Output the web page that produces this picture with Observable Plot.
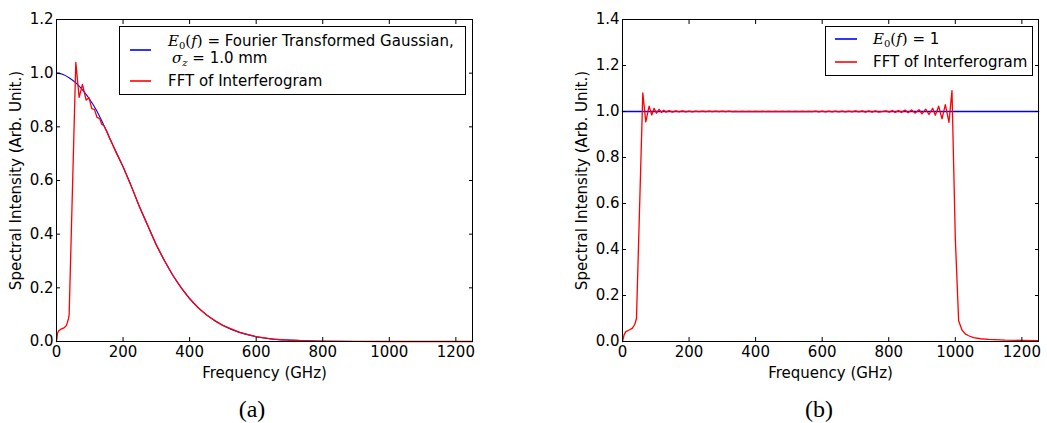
<!DOCTYPE html>
<html><head><meta charset="utf-8">
<script src="https://cdn.jsdelivr.net/npm/d3@7"></script>
<script src="https://cdn.jsdelivr.net/npm/@observablehq/plot@0.6"></script>
<style>
body{margin:0;background:#fff;}
#fig{position:relative;width:1047px;height:423px;overflow:hidden;}
.panel{position:absolute;top:0;width:490px;height:390px;}
.panel svg{max-width:none !important;}
#overlay{position:absolute;left:0;top:0;}
</style></head><body><div id="fig"></div>
<script>
// ---------- data ----------
const freqTicks = [0, 200, 400, 600, 800, 1000, 1200];
const yTicksA = [0, 0.2, 0.4, 0.6, 0.8, 1.0, 1.2];
const yTicksB = [0, 0.2, 0.4, 0.6, 0.8, 1.0, 1.2, 1.4];
const xLabel = "Frequency (GHz)";
const yLabel = "Spectral Intensity (Arb. Unit.)";
const captions = ["(a)", "(b)"];
const legendRed = "FFT of Interferogram";
const legendBlueA = [" = Fourier Transformed Gaussian,", " = 1.0 mm"];
const legendBlueB = " = 1";

// panel (a): E0(f), Fourier transformed Gaussian
const blueFreqA = [0,20,40,60,80,100,120,140,160,180,200,225,250,275,300,325,350,375,400,425,450,475,500,550,600,650,700,750,800,900,1000,1250];
const blueValA  = [1,0.995,0.981,0.962,0.935,0.902,0.862,0.812,0.757,0.704,0.651,0.578,0.5,0.43,0.36,0.3,0.246,0.2,0.16,0.127,0.1,0.078,0.06,0.034,0.018,0.009,0.005,0.0025,0.001,0.0002,0,0];
// panel (a): FFT of interferogram
const redFreqA = [0,3,6,12,24,30,36,38,58,68,78,89,98,106,114,122,130,136,142,150,160,170,180,200,225,250,275,300,325,350,375,400,425,450,475,500,550,600,650,700,750,800,900,1000,1100,1250];
const redValA  = [0,0.03,0.039,0.045,0.052,0.06,0.085,0.1,1.04,0.91,0.958,0.9,0.908,0.868,0.865,0.835,0.83,0.81,0.805,0.786,0.757,0.73,0.702,0.651,0.578,0.5,0.43,0.36,0.3,0.246,0.2,0.16,0.127,0.1,0.078,0.06,0.034,0.018,0.009,0.005,0.0025,0.001,0.0002,0,0,0];

// panel (b): E0(f) = 1
const blueFreqB = [0, 1250];
const blueValB  = [1, 1];
// panel (b): FFT of interferogram
const redFreqB = [0,5,10,20,30,37,42,61,70,80,88,95,102,110,117,124,131,140,150,160,170,180,190,200,210,220,230,240,250,260,270,280,290,300,310,320,330,340,350,360,370,380,390,400,410,420,430,440,450,460,470,480,490,500,510,520,530,540,550,560,570,580,590,600,610,620,630,640,650,660,670,680,690,700,710,720,730,740,750,760,770,792,801,811,819,829,838,849,858,869,879,891,900,911,921,932,940,950,960,970,981,990,1000,1010,1020,1030,1040,1055,1075,1100,1150,1200,1250];
const redValB  = [0,0.03,0.043,0.05,0.058,0.075,0.1,1.081,0.955,1.023,0.985,1.014,0.993,1.009,0.996,1.006,0.997,1.004,0.997,1.003,0.998,1.003,0.998,1.002,0.998,1.002,0.999,1.002,0.999,1.002,0.999,1.002,0.999,1.002,0.999,1.002,0.999,1.001,0.999,1.001,0.999,1.001,0.999,1.001,0.999,1.001,0.999,1.001,0.999,1.001,0.999,1.001,0.999,1.001,0.999,1.001,0.999,1.001,0.999,1.001,0.999,1.002,0.998,1.002,0.998,1.002,0.998,1.002,0.998,1.002,0.998,1.002,0.998,1.003,0.998,1.003,0.997,1.003,0.997,1.003,0.997,1.003,0.997,1.004,0.996,1.004,0.996,1.006,0.995,1.007,0.993,1.008,0.99,1.01,0.987,1.014,0.984,1.023,0.968,1.03,0.953,1.091,0.45,0.09,0.05,0.033,0.025,0.017,0.012,0.009,0.006,0.005,0.004];

// ---------- drawing ----------
const FONT = "DejaVu Sans";
const FS = 15;
function panel(blueF, blueV, redF, redV, yTicks, yMax, blueW) {
  const blue = blueF.map((f, i) => ({f, v: blueV[i]}));
  const red = redF.map((f, i) => ({f, v: redV[i]}));
  const none = () => "";
  return Plot.plot({
    width: 490, height: 390,
    marginLeft: 56, marginRight: 18, marginTop: 19, marginBottom: 49,
    style: {fontFamily: FONT, fontSize: FS + "px", background: "white", color: "black", overflow: "visible", maxWidth: "none"},
    x: {domain: [0, 1250], label: xLabel},
    y: {domain: [0, yMax], label: yLabel},
    marks: [
      Plot.line(blue, {x: "f", y: "v", stroke: "#0000ff", strokeWidth: blueW, curve: "monotone-x"}),
      Plot.line(red, {x: "f", y: "v", stroke: "#ff0000", strokeWidth: 1.3}),
      Plot.axisX(freqTicks, {anchor: "bottom", tickSize: 0, tickPadding: 5, tickFormat: "d", label: xLabel, labelAnchor: "center", labelOffset: 36, labelArrow: "none"}),
      Plot.axisX(freqTicks, {anchor: "bottom", tickSize: -4, tickFormat: none, label: null}),
      Plot.axisX(freqTicks, {anchor: "top", tickSize: -4, tickFormat: none, label: null}),
      Plot.axisY(yTicks, {anchor: "left", tickSize: 0, tickPadding: 3, tickFormat: ".1f", label: yLabel, labelAnchor: "center", labelOffset: 46, labelArrow: "none"}),
      Plot.axisY(yTicks, {anchor: "left", tickSize: -4, tickFormat: none, label: null}),
      Plot.axisY(yTicks, {anchor: "right", tickSize: -4, tickFormat: none, label: null}),
      Plot.frame({stroke: "black", strokeWidth: 1})
    ]
  });
}

const fig = document.getElementById("fig");
const pa = panel(blueFreqA, blueValA, redFreqA, redValA, yTicksA, 1.2, 1.1);
const pb = panel(blueFreqB, blueValB, redFreqB, redValB, yTicksB, 1.4, 1.6);
const da = document.createElement("div"); da.className = "panel"; da.style.left = "0px"; da.appendChild(pa);
const db = document.createElement("div"); db.className = "panel"; db.style.left = "566px"; db.appendChild(pb);
fig.appendChild(da); fig.appendChild(db);

// ---------- legends & captions overlay ----------
const NS = "http://www.w3.org/2000/svg";
const ov = document.createElementNS(NS, "svg");
ov.setAttribute("id", "overlay");
ov.setAttribute("width", 1047); ov.setAttribute("height", 423);
ov.style.pointerEvents = "none";
fig.appendChild(ov);
function el(tag, attrs, parent = ov) {
  const e = document.createElementNS(NS, tag);
  for (const k in attrs) e.setAttribute(k, attrs[k]);
  parent.appendChild(e); return e;
}
function tspan(parent, txt, attrs = {}) { const t = el("tspan", attrs, parent); t.textContent = txt; return t; }
const MATH = "DejaVu Serif";
function mathE0f(t) {
  tspan(t, "E", {"font-family": MATH, "font-style": "italic", "font-size": 15});
  tspan(t, "0", {"font-family": MATH, "font-size": 10, dy: 3});
  tspan(t, "(", {"font-family": MATH, "font-size": 15, dy: -3});
  tspan(t, "f", {"font-family": MATH, "font-style": "italic", "font-size": 15});
  tspan(t, ")", {"font-family": MATH, "font-size": 15});
}

// legend (a)
el("rect", {x: 119.5, y: 26.5, width: 346, height: 68, fill: "white", stroke: "black", "stroke-width": 1});
el("line", {x1: 130, x2: 151, y1: 50, y2: 50, stroke: "#0000ff", "stroke-width": 1.6});
el("line", {x1: 130, x2: 151, y1: 81, y2: 81, stroke: "#ff0000", "stroke-width": 1.6});
let t = el("text", {x: 168, y: 45.5, "font-family": FONT, "font-size": FS, fill: "black"});
mathE0f(t);
tspan(t, legendBlueA[0]);
t = el("text", {x: 172, y: 63, "font-family": FONT, "font-size": FS, fill: "black"});
tspan(t, "σ", {"font-family": MATH, "font-style": "italic", "font-size": 15});
tspan(t, "z", {"font-family": MATH, "font-style": "italic", "font-size": 10, dy: 3});
tspan(t, legendBlueA[1], {dy: -3});
t = el("text", {x: 168, y: 86, "font-family": FONT, "font-size": FS, fill: "black"});
t.textContent = legendRed;

// legend (b)
el("rect", {x: 825.5, y: 26.5, width: 207, height: 49, fill: "white", stroke: "black", "stroke-width": 1});
el("line", {x1: 835, x2: 857, y1: 39, y2: 39, stroke: "#0000ff", "stroke-width": 1.6});
el("line", {x1: 835, x2: 857, y1: 62, y2: 62, stroke: "#ff0000", "stroke-width": 1.6});
t = el("text", {x: 873, y: 44, "font-family": FONT, "font-size": FS, fill: "black"});
mathE0f(t);
tspan(t, legendBlueB);
t = el("text", {x: 873, y: 67, "font-family": FONT, "font-size": FS, fill: "black"});
t.textContent = legendRed;

// captions
[[252, captions[0]], [819, captions[1]]].forEach(([x, s]) => {
  const c = el("text", {x, y: 417, "text-anchor": "middle", "font-family": "Liberation Serif", "font-size": 24, fill: "black"});
  c.textContent = s;
});
</script></body></html>
